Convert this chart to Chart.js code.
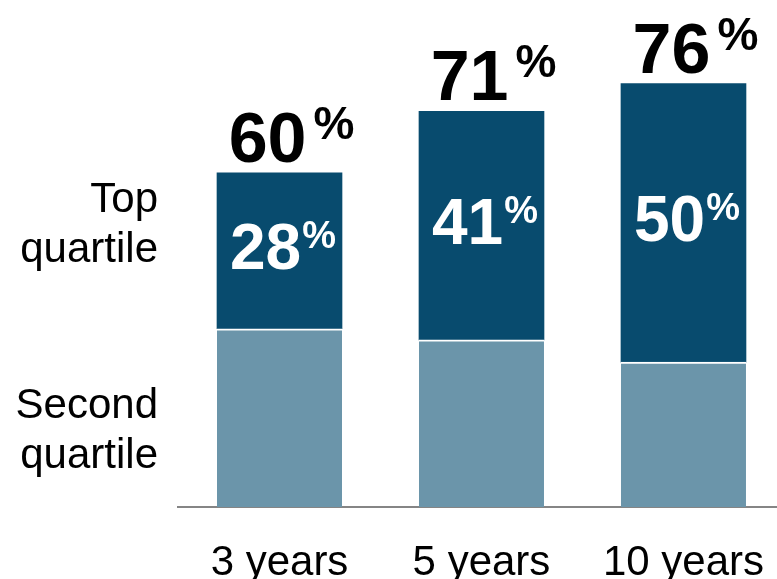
<!DOCTYPE html>
<html>
<head>
<meta charset="utf-8">
<script src="https://cdn.jsdelivr.net/npm/chart.js@4.4.0/dist/chart.umd.min.js"></script>
<style>
  html, body { margin: 0; padding: 0; background: #fff; }
  #wrap { width: 777px; height: 579px; position: relative; }
</style>
</head>
<body>
<div id="wrap"><canvas id="mycanvas"></canvas></div>
<script>
// data
var categories = ['3 years', '5 years', '10 years'];
var secondQuartile = [32, 30, 26];
var topQuartile = [28, 41, 50];
var totals = [60, 71, 76];
var rowLabels = [['Top', 'quartile'], ['Second', 'quartile']];

var FONT = "'Liberation Sans', Arial, sans-serif";
var DARK = '#084b6e';
var LIGHT = '#6b95aa';

function pts(arr) {
    var out = [];
    for (var i = 0; i < arr.length; i++) out.push({ x: i, y: arr[i] });
    return out;
}

var labelPlugin = {
    id: 'labels',
    afterDatasetsDraw: function(chart) {
        var ctx = chart.ctx;
        var yScale = chart.scales.y;
        var upper = chart.getDatasetMeta(1).data;
        ctx.save();
        ctx.textBaseline = 'alphabetic';
        for (var i = 0; i < upper.length; i++) {
            var bar = upper[i];
            var cx = bar.x;
            var top = bar.y;
            var mid = (bar.y + bar.base) / 2;

            // total above bar, % as superscript
            var base = top - 11;
            ctx.fillStyle = '#000';
            ctx.font = 'bold 70px ' + FONT;
            ctx.textAlign = 'right';
            ctx.fillText(String(totals[i]), cx + 27, base);
            ctx.font = 'bold 46px ' + FONT;
            ctx.textAlign = 'left';
            ctx.fillText('%', cx + 34, base - 23);

            // top quartile share inside dark segment
            ctx.fillStyle = '#fff';
            ctx.font = 'bold 64px ' + FONT;
            var dw = ctx.measureText(String(topQuartile[i])).width;
            ctx.font = 'bold 38px ' + FONT;
            var pw = ctx.measureText('%').width;
            var x0 = cx - (dw + pw) / 2 + 3;
            var b2 = mid + 18;
            ctx.textAlign = 'left';
            ctx.font = 'bold 64px ' + FONT;
            ctx.fillText(String(topQuartile[i]), x0, b2);
            ctx.font = 'bold 38px ' + FONT;
            ctx.fillText('%', x0 + dw + 1, b2 - 21);
        }

        // row labels on the left
        ctx.fillStyle = '#000';
        ctx.font = '42px ' + FONT;
        ctx.textAlign = 'right';
        var rowY = [yScale.getPixelForValue(53), yScale.getPixelForValue(16)];
        for (var r = 0; r < rowLabels.length; r++) {
            ctx.fillText(rowLabels[r][0], 158, rowY[r]);
            ctx.fillText(rowLabels[r][1], 158, rowY[r] + 50);
        }
        ctx.restore();
    }
};

var ctx = document.getElementById('mycanvas');
var myChart = new Chart(ctx, {
    type: 'bar',
    data: {
        datasets: [{
            label: 'Second quartile',
            data: pts(secondQuartile),
            backgroundColor: LIGHT,
            borderColor: '#ffffff',
            borderWidth: { top: 2, left: 0, right: 0, bottom: 0 },
            borderSkipped: false,
            barThickness: 125
        }, {
            label: 'Top quartile',
            data: pts(topQuartile),
            backgroundColor: DARK,
            borderWidth: 0,
            barThickness: 125
        }]
    },
    options: {
        responsive: true,
        maintainAspectRatio: false,
        animation: false,
        layout: { padding: { left: 178, right: 0, top: 0, bottom: 0 } },
        plugins: {
            legend: { display: false },
            tooltip: { enabled: false }
        },
        scales: {
            x: {
                type: 'linear',
                stacked: true,
                offset: false,
                min: -0.5025,
                max: 2.463,
                grid: { display: false, drawTicks: false, offset: false },
                border: { display: true, color: '#858585', width: 2 },
                afterFit: function(scale) {
                    scale.height = 72;
                    scale.paddingLeft = 0;
                    scale.paddingRight = 0;
                },
                afterBuildTicks: function(scale) {
                    scale.ticks = categories.map(function(c, i) { return { value: i }; });
                },
                ticks: {
                    autoSkip: false,
                    maxRotation: 0,
                    padding: 31,
                    color: '#000',
                    font: { family: FONT, size: 42 },
                    callback: function(v) { return categories[v]; }
                }
            },
            y: {
                display: false,
                stacked: true,
                min: 0,
                max: 91
            }
        }
    },
    plugins: [labelPlugin]
});
</script>
</body>
</html>
